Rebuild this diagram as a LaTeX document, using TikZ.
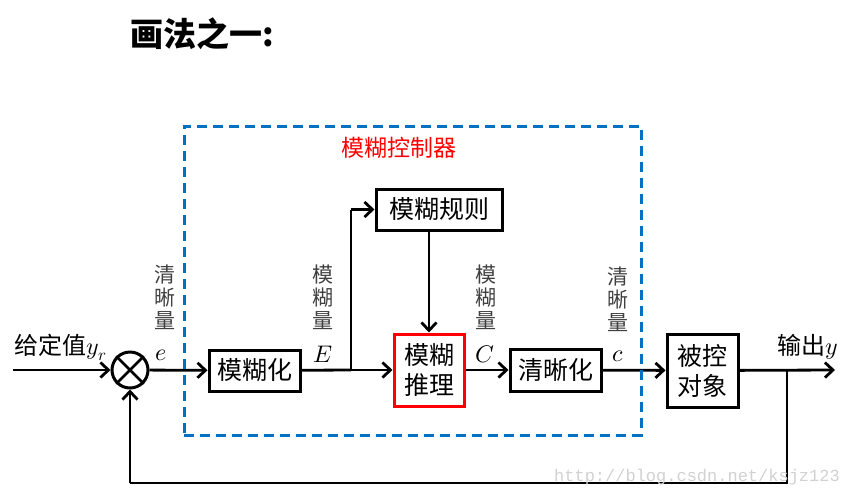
\documentclass[tikz,border=0pt]{standalone}
\usepackage{fontspec}
\usepackage{unicode-math}
\newfontfamily\cjk{Noto Sans CJK SC}
\newfontfamily\urlfont{Liberation Mono}
\usetikzlibrary{arrows.meta}
\pgfdeclarelayer{edgelayer}
\pgfdeclarelayer{nodelayer}
\pgfsetlayers{edgelayer,nodelayer,main}
\definecolor{ctrlblue}{RGB}{0,112,192}
\definecolor{labelgray}{RGB}{64,64,64}
\tikzstyle{none}=[inner sep=0pt]
\tikzstyle{block}=[rectangle,draw=black,fill=white,line width=3pt,inner sep=0pt,align=center,font=\cjk\fontsize{25}{30}\selectfont]
\tikzstyle{redblock}=[block,draw=red]
\tikzstyle{summer}=[circle,draw=black,fill=white,line width=3pt,minimum size=36pt,inner sep=0pt]
\tikzstyle{controller}=[rectangle,draw=ctrlblue,line width=3pt,dash pattern=on 10pt off 6pt]
\tikzstyle{quantity}=[inner sep=0pt,text=labelgray,align=center,font=\cjk\fontsize{21}{23}\selectfont]
\tikzstyle{mathlabel}=[inner sep=0pt,font=\fontsize{24}{24}\selectfont]
\tikzstyle{transition}=[-{Straight Barb[length=8pt,width=15pt]},draw=black,line width=2.8pt]
\tikzstyle{simple}=[-,draw=black,line width=2.8pt]

\begin{document}
\begin{tikzpicture}[x=1pt,y=-1pt]
	\useasboundingbox (0,0) rectangle (848,496);
	\begin{pgfonlayer}{nodelayer}
		\node [style=none, font=\cjk\bfseries\fontsize{33}{33}\selectfont] (0) at (202, 34) {画法之一:};
		\node [style=controller, minimum width=457pt, minimum height=309pt] (1) at (412.5, 280.5) {};
		\node [style=none, text=red, font=\cjk\fontsize{23}{23}\selectfont] (2) at (399, 148) {模糊控制器};
		\node [style=summer] (3) at (130, 370) {};
		\node [style=block, minimum width=91pt, minimum height=41pt] (4) at (254.5, 370.5) {模糊化};
		\node [style=block, minimum width=126pt, minimum height=41pt] (5) at (439, 209.5) {模糊规则};
		\node [style=redblock, minimum width=70pt, minimum height=72pt] (6) at (429, 370) {模糊\\推理};
		\node [style=block, minimum width=91pt, minimum height=42pt] (7) at (555.5, 370) {清晰化};
		\node [style=block, minimum width=71pt, minimum height=73pt] (8) at (702.5, 370.5) {被控\\对象};
		\node [style=none, font=\cjk\fontsize{24}{24}\selectfont] (9) at (61, 347) {给定值$y_r$};
		\node [style=mathlabel] (10) at (161, 355) {$e$};
		\node [style=quantity] (11) at (165, 297) {清\\晰\\量};
		\node [style=mathlabel] (12) at (323, 354) {$E$};
		\node [style=quantity] (13) at (323, 297) {模\\糊\\量};
		\node [style=mathlabel] (14) at (485, 354) {$C$};
		\node [style=quantity] (15) at (486, 297) {模\\糊\\量};
		\node [style=mathlabel] (16) at (618, 356) {$c$};
		\node [style=quantity] (17) at (618, 299) {清\\晰\\量};
		\node [style=none, font=\cjk\fontsize{24}{24}\selectfont] (18) at (808, 347) {输出$y$};
		\coordinate (19) at (13, 370);
		\coordinate (20) at (351, 370);
		\coordinate (21) at (351, 209.5);
		\coordinate (22) at (787, 370);
		\coordinate (23) at (835, 370);
		\coordinate (24) at (787, 483);
		\coordinate (25) at (130, 483);
		\node [style=none, text=black!18, font=\urlfont\fontsize{17}{17}\selectfont] (26) at (697, 477) {http://blog.csdn.net/ksjz123};
	\end{pgfonlayer}
	\begin{pgfonlayer}{edgelayer}
		\draw [style=transition] (19) to (3);
		\draw [style=transition] (3) to (4);
		\draw [style=simple] (4) to (20);
		\draw [style=transition] (20) to (6);
		\draw [style=simple] (20) to (21);
		\draw [style=transition] (21) to (5);
		\draw [style=transition] (5.south -| 6.north) to (6.north);
		\draw [style=transition] (6) to (7);
		\draw [style=transition] (7) to (8);
		\draw [style=transition] (8) to (23);
		\draw [style=simple] (22) to (24) to (25);
		\draw [style=transition] (25) to (3);
	\end{pgfonlayer}
	\draw [style=simple] (3.north west) to (3.south east);
	\draw [style=simple] (3.north east) to (3.south west);
\end{tikzpicture}
\end{document}
